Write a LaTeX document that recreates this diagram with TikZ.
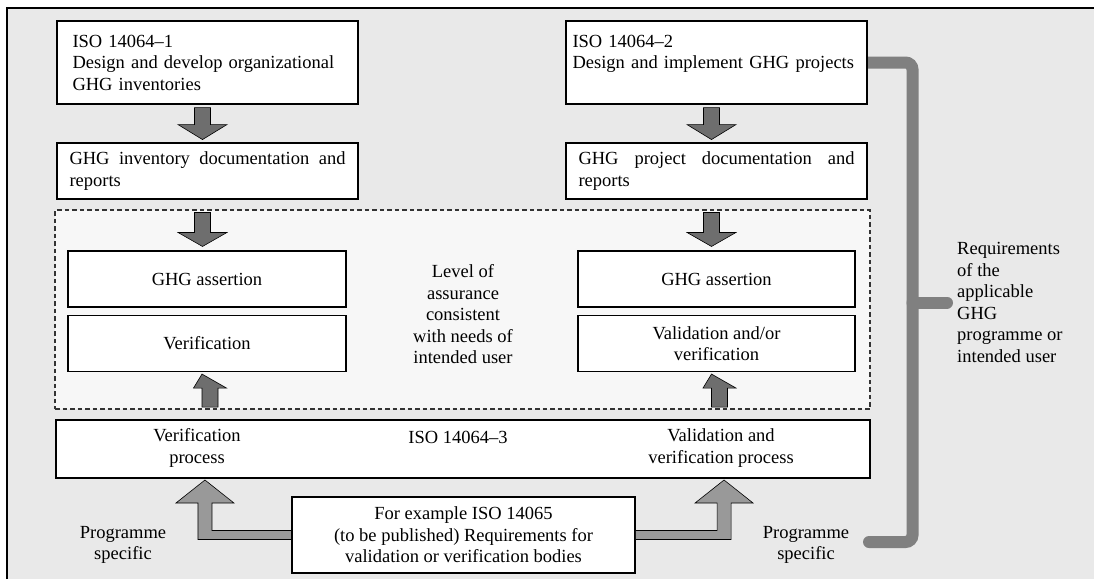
\documentclass[tikz,border=0pt]{standalone}
\usepackage{fontspec}
\setmainfont{Liberation Serif}
\usetikzlibrary{backgrounds}
\hyphenpenalty=10000
\exhyphenpenalty=10000
\definecolor{bggray}{HTML}{E9E9E9}
\definecolor{panelgray}{HTML}{F7F7F7}
\definecolor{arrowgray}{HTML}{6E6E6E}
\definecolor{lightarrow}{HTML}{999999}
\definecolor{linegray}{HTML}{808080}
\tikzset{
  txt/.style={font=\fontsize{18.5}{21.5}\selectfont, inner sep=2pt},
  stdbox/.style={txt, draw=black, line width=1.1pt, fill=white},
  topbox/.style={stdbox, minimum width=301, minimum height=83, align=left},
  docbox/.style={stdbox, minimum width=301, minimum height=56, text width=276, inner xsep=12.5, align=justify},
  innerbox/.style={stdbox, minimum width=278, minimum height=56, align=center},
  blockarrow/.style={draw=black, line width=0.6pt, fill=arrowgray},
  lblock/.style={draw=black, line width=0.6pt, fill=lightarrow},
  reqline/.style={draw=linegray, line width=12pt, line cap=round}
}
\begin{document}
\begin{tikzpicture}[x=1pt, y=-1pt]
  \useasboundingbox (0,0) rectangle (1094,579);
  % top row
  \node[topbox, text width=270, inner xsep=15.5] (iso1) at (207.5,62.5) {ISO 14064–1\\Design and develop organizational\\GHG inventories};
  \node[topbox, text width=288, inner xsep=6.5] (iso2) at (716.5,62.5) {ISO 14064–2\\Design and implement GHG projects\\\mbox{}};
  \node[docbox] (inv) at (207.5,171) {GHG inventory documentation and reports};
  \node[docbox] (proj) at (716.5,171) {GHG project documentation and reports};
  % assurance panel
  \node[draw=black!80, dash pattern=on 4.5pt off 3pt, line width=1.4pt, fill=panelgray, minimum width=815, minimum height=199] (assure) at (462.5,309.5) {};
  \node[innerbox] (ghgL) at (207,279) {GHG assertion};
  \node[innerbox] (verL) at (207,343.5) {Verification};
  \node[innerbox, minimum width=277] (ghgR) at (716.5,279) {GHG assertion};
  \node[innerbox, minimum width=277] (valR) at (716.5,343.5) {Validation and/or\\verification};
  \node[txt, align=center] (level) at (463,314.5) {Level of\\assurance\\consistent\\with needs of\\intended user};
  % ISO 14064-3
  \node[stdbox, minimum width=814, minimum height=58] (iso3) at (463,449) {};
  \node[txt, align=center] (verproc) at (197,448) {Verification\\process};
  \node[txt] (isotxt) at (458,437) {ISO 14064–3};
  \node[txt, align=center] (valproc) at (721,448) {Validation and\\verification process};
  % bodies
  \node[stdbox, minimum width=343, minimum height=76, align=center] (body) at (463.5,535) {For example ISO 14065\\(to be published) Requirements for\\validation or verification bodies};
  \node[txt, align=center] (progL) at (123,545) {Programme\\specific};
  \node[txt, align=center] (progR) at (806,545) {Programme\\specific};
  \node[txt, align=left, anchor=west] (req) at (955,302.5) {Requirements\\of the\\applicable\\GHG\\programme or\\intended user};
  % block arrows
  \draw[blockarrow] ([xshift=-5]iso1.south) ++(-8,3) -- ++(0,17) -- ++(-16.5,0) -- ++(24.5,15) -- ++(24.5,-15) -- ++(-16.5,0) -- ++(0,-17) -- cycle;
  \draw[blockarrow] ([xshift=-5]iso2.south) ++(-8,3) -- ++(0,17) -- ++(-16.5,0) -- ++(24.5,15) -- ++(24.5,-15) -- ++(-16.5,0) -- ++(0,-17) -- cycle;
  \draw[blockarrow] (ghgL.north -| inv.south) ++(-5,0) ++(-8,-38) -- ++(0,20) -- ++(-16.5,0) -- ++(24.5,14) -- ++(24.5,-14) -- ++(-16.5,0) -- ++(0,-20) -- cycle;
  \draw[blockarrow] (ghgR.north -| proj.south) ++(-5,0) ++(-8,-38) -- ++(0,20) -- ++(-16.5,0) -- ++(24.5,14) -- ++(24.5,-14) -- ++(-16.5,0) -- ++(0,-20) -- cycle;
  \draw[blockarrow] ([xshift=-5]verL.south) ++(0,2) -- ++(24.5,14) -- ++(-8.5,0) -- ++(0,19) -- ++(-16,0) -- ++(0,-19) -- ++(-8.5,0) -- cycle;
  \draw[blockarrow] ([xshift=-5]valR.south) ++(0,2) -- ++(24.5,14) -- ++(-8.5,0) -- ++(0,19) -- ++(-16,0) -- ++(0,-19) -- ++(-8.5,0) -- cycle;
  % L shaped arrows from the bodies box
  \draw[lblock] (body.west) ++(0,-4.5) -- ++(-79.5,0) -- ++(0,-27.5) -- ++(22,0) -- ++(-29,-23) -- ++(-29,23) -- ++(22,0) -- ++(0,36.5) -- ++(93.5,0) -- cycle;
  \draw[lblock] (body.east) ++(0,-4.5) -- ++(81.5,0) -- ++(0,-27.5) -- ++(-22,0) -- ++(29,-23) -- ++(29,23) -- ++(-22,0) -- ++(0,36.5) -- ++(-95.5,0) -- cycle;
  % frame and requirement line
  \begin{scope}[on background layer]
    \fill[bggray] (7,8) rectangle (1094,579);
    \draw[line width=1.4pt] (7,579) -- (7,8) -- (1094,8);
    \coordinate (bend) at (912.5,542);
    \coordinate (tail) at (869,542);
    \draw[reqline, rounded corners=7] (iso2.east) -| (bend) -- (tail);
    \draw[reqline] (bend |- req.west) -- ([xshift=-8]req.west);
  \end{scope}
\end{tikzpicture}
\end{document}
